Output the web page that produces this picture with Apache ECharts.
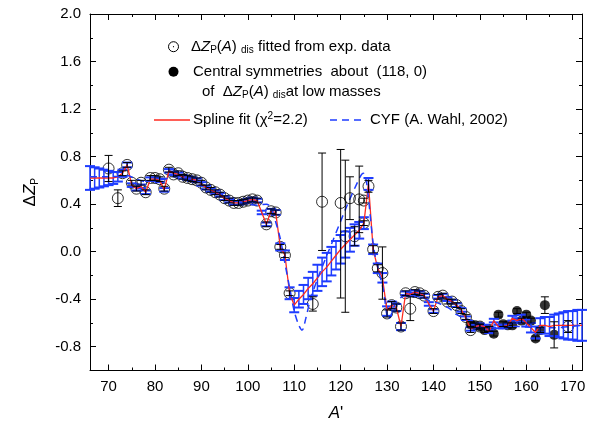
<!DOCTYPE html>
<html><head><meta charset="utf-8">
<script src="https://cdn.jsdelivr.net/npm/echarts@6/dist/echarts.min.js"></script>
<style>html,body{margin:0;padding:0;background:#fff}#c{width:600px;height:435px}</style>
</head><body><div id="c"></div>
<script>
// ---- data ----
const xMajorTicks = [70,80,90,100,110,120,130,140,150,160,170];
const xMinorTicks = [75,85,95,105,115,125,135,145,155,165];
const yMajorTicks = [-0.8,-0.4,0,0.4,0.8,1.2,1.6,2.0];
const yMinorTicks = [-0.6,-0.2,0.2,0.6,1.0,1.4,1.8];

// spline fit: [A, value, uncertainty]
const splineFit = [
[66,0.62,0.10],[67,0.62,0.09],[68,0.62,0.08],[69,0.62,0.07],[70,0.62,0.06],[71,0.62,0.05],[72,0.63,0.04],[73,0.66,0.03],
[74,0.73,0.02],[75,0.56,0.015],[76,0.53,0.015],[77,0.55,0.015],[78,0.50,0.015],[79,0.61,0.015],[80,0.61,0.015],[81,0.60,0.015],
[82,0.52,0.015],[83,0.68,0.015],[84,0.66,0.015],[85,0.65,0.015],[86,0.63,0.015],[87,0.62,0.015],[88,0.61,0.015],[89,0.60,0.015],
[90,0.57,0.015],[91,0.54,0.015],[92,0.52,0.015],[93,0.50,0.015],[94,0.48,0.015],[95,0.45,0.015],[96,0.43,0.015],[97,0.41,0.015],
[98,0.41,0.015],[99,0.42,0.015],[100,0.43,0.015],[101,0.44,0.015],[102,0.43,0.015],[103,0.33,0.015],[104,0.23,0.015],[105,0.34,0.02],
[106,0.33,0.02],[107,0.04,0.03],[108,-0.03,0.04],[109,-0.35,0.05],[110,-0.45,0.06],[111,-0.40,0.07],[112,-0.36,0.08],[113,-0.31,0.09],
[114,-0.27,0.10],[115,-0.22,0.11],[116,-0.17,0.12],[117,-0.13,0.12],[118,-0.08,0.12],[119,-0.03,0.12],[120,0.02,0.12],[121,0.06,0.11],
[122,0.10,0.10],[123,0.14,0.09],[124,0.18,0.07],[125,0.24,0.05],[126,0.57,0.05],[127,0.02,0.04],[128,-0.14,0.04],[129,-0.22,0.04],
[130,-0.50,0.04],[131,-0.45,0.03],[132,-0.47,0.03],[133,-0.63,0.03],[134,-0.35,0.015],[135,-0.36,0.015],[136,-0.34,0.015],[137,-0.35,0.015],
[138,-0.37,0.015],[139,-0.44,0.015],[140,-0.50,0.015],[141,-0.38,0.015],[142,-0.37,0.015],[143,-0.40,0.015],[144,-0.42,0.015],[145,-0.45,0.015],
[146,-0.49,0.015],[147,-0.56,0.015],[148,-0.65,0.015],[149,-0.63,0.015],[150,-0.62,0.015],[151,-0.63,0.015],[152,-0.67,0.015],[153,-0.58,0.015],
[154,-0.63,0.015],[155,-0.63,0.015],[156,-0.62,0.015],[157,-0.56,0.02],[158,-0.58,0.02],[159,-0.56,0.03],[160,-0.60,0.03],[161,-0.64,0.04],
[162,-0.68,0.05],[163,-0.62,0.06],[164,-0.62,0.07],[165,-0.63,0.08],[166,-0.62,0.09],[167,-0.62,0.10],[168,-0.62,0.11],[169,-0.62,0.12],
[170,-0.62,0.12],[171,-0.62,0.13],[172,-0.62,0.13]
];

// CYF (A. Wahl, 2002): [A, value]
const cyfCurve = [
[66,0.63],[70,0.63],[74,0.64],[76,0.61],[78,0.59],[80,0.60],[82,0.61],[84,0.63],[86,0.63],[88,0.61],[90,0.58],[92,0.53],
[94,0.49],[96,0.45],[98,0.42],[100,0.40],[102,0.39],[104,0.40],[105,0.37],[106,0.25],[107,0.11],[108,-0.10],[109,-0.30],
[110,-0.50],[111,-0.62],[111.7,-0.66],[112.5,-0.56],[113.5,-0.40],[115.5,-0.18],[118.4,0.10],[121.3,0.38],[124.2,0.63],
[124.9,0.66],[125.6,0.58],[127.1,0.04],[128.1,-0.15],[129.2,-0.32],[130.3,-0.57],[131,-0.52],[132,-0.42],[134,-0.37],
[137,-0.38],[139,-0.41],[141.5,-0.44],[143.5,-0.48],[145,-0.53],[149,-0.59],[154,-0.64],[158,-0.63],[162,-0.64],[166,-0.64],[172,-0.62]
];

// DeltaZp(A)dis fitted from exp. data: [A, value, errLow, errHigh]
const expPoints = [
[70,0.70,0.11,0.11],[72,0.45,0.07,0.07],[73,0.66,0.02,0.02],[74,0.73,0.02,0.02],[75,0.58,0.02,0.02],[76,0.53,0.02,0.02],
[77,0.58,0.02,0.02],[78,0.50,0.02,0.02],[79,0.62,0.02,0.02],[80,0.62,0.02,0.02],[81,0.61,0.02,0.02],[82,0.53,0.02,0.02],
[83,0.69,0.02,0.02],[84,0.65,0.02,0.02],[85,0.66,0.02,0.02],[86,0.63,0.02,0.02],[87,0.62,0.02,0.02],[88,0.61,0.02,0.02],
[89,0.60,0.02,0.02],[90,0.58,0.02,0.02],[91,0.54,0.02,0.02],[92,0.52,0.02,0.02],[93,0.50,0.02,0.02],[94,0.48,0.02,0.02],
[95,0.45,0.02,0.02],[96,0.43,0.02,0.02],[97,0.41,0.02,0.02],[98,0.41,0.02,0.02],[99,0.42,0.02,0.02],[100,0.43,0.02,0.02],
[101,0.44,0.02,0.02],[102,0.43,0.02,0.02],[104,0.23,0.02,0.02],[105,0.34,0.02,0.02],[106,0.33,0.02,0.02],[107,0.04,0.02,0.02],
[108,-0.03,0.02,0.02],[109,-0.35,0.02,0.02],[114,-0.44,0.06,0.06],[116,0.42,0.41,0.41],[120,0.41,0.80,0.45],[121,0.13,0.64,0.64],
[122,0.45,0.18,0.18],[123,0.13,0.08,0.08],[124,0.44,0.28,0.28],[125,0.24,0.02,0.02],[125,0.43,0.02,0.02],[126,0.55,0.05,0.05],
[127,0.02,0.03,0.03],[128,-0.14,0.03,0.03],[129,-0.18,0.22,0.22],[130,-0.52,0.03,0.03],[131,-0.45,0.03,0.03],[132,-0.47,0.03,0.03],
[133,-0.63,0.03,0.03],[134,-0.35,0.02,0.02],[135,-0.48,0.10,0.10],[136,-0.34,0.02,0.02],[137,-0.35,0.02,0.02],[138,-0.37,0.02,0.02],
[140,-0.50,0.02,0.02],[141,-0.38,0.02,0.02],[142,-0.37,0.02,0.02],[143,-0.42,0.02,0.02],[144,-0.42,0.02,0.02],[145,-0.45,0.02,0.02],
[146,-0.50,0.02,0.02],[147,-0.55,0.02,0.02],[148,-0.66,0.02,0.02],[150,-0.63,0.02,0.02],[169,-0.63,0.05,0.05]
];

// central symmetries about (118, 0) of low-mass points: [A, value, err]
const symPoints = [
[148,-0.61,0.02],[149,-0.62,0.02],[150,-0.63,0.02],[151,-0.66,0.02],[152,-0.65,0.02],[153,-0.69,0.02],[154,-0.53,0.02],
[155,-0.61,0.02],[156,-0.62,0.02],[157,-0.62,0.02],[158,-0.50,0.02],[159,-0.58,0.02],[160,-0.53,0.02],[161,-0.58,0.02],
[162,-0.73,0.02],[163,-0.66,0.02],[164,-0.45,0.07],[166,-0.70,0.11]
];

// ---- chart ----
const FONT = '"Liberation Sans", Arial, sans-serif';
const RED = '#ff2a1f', BLUE = '#1e3cff';
const chart = echarts.init(document.getElementById('c'), null, {renderer:'canvas'});

function errRender(color, capW, lw, capLw) {
  return function (params, api) {
    const x = api.value(0), lo = api.value(1), hi = api.value(2);
    const p1 = api.coord([x, lo]), p2 = api.coord([x, hi]);
    const h = capW / 2;
    const st = {stroke: color, lineWidth: lw};
    const cst = {stroke: color, lineWidth: capLw || lw};
    return {type: 'group', children: [
      {type: 'line', shape: {x1: p1[0], y1: p1[1], x2: p2[0], y2: p2[1]}, style: st},
      {type: 'line', shape: {x1: p1[0]-h, y1: p1[1], x2: p1[0]+h, y2: p1[1]}, style: cst},
      {type: 'line', shape: {x1: p2[0]-h, y1: p2[1], x2: p2[0]+h, y2: p2[1]}, style: cst}
    ]};
  };
}

function xAx(pos, vals, len, labels, line, extra) {
  return Object.assign({
    type: 'value', position: pos, min: 66, max: 172,
    axisLine: {show: line, onZero: false, lineStyle: {color: '#000', width: 1}},
    axisTick: {show: true, inside: true, length: len, customValues: vals, lineStyle: {color: '#000', width: 1}},
    axisLabel: {show: labels, customValues: vals, color: '#000', fontSize: 15, fontFamily: FONT, margin: 9},
    splitLine: {show: false}
  }, extra || {});
}
function yAx(pos, vals, len, labels, line, extra) {
  return Object.assign({
    type: 'value', position: pos, min: -1.0, max: 2.0,
    axisLine: {show: line, onZero: false, lineStyle: {color: '#000', width: 1}},
    axisTick: {show: true, inside: true, length: len, customValues: vals, lineStyle: {color: '#000', width: 1}},
    axisLabel: {show: labels, customValues: vals, color: '#000', fontSize: 15, fontFamily: FONT, margin: 9,
      formatter: v => Number(v).toFixed(1)},
    splitLine: {show: false}
  }, extra || {});
}

const richBase = {
  n: {fontSize: 15, fontFamily: FONT, color: '#000', lineHeight: 18},
  i: {fontSize: 15, fontFamily: FONT, color: '#000', fontStyle: 'italic', lineHeight: 18},
  s: {fontSize: 10, fontFamily: FONT, color: '#000', verticalAlign: 'bottom', lineHeight: 11},
  t: {fontSize: 10, fontFamily: FONT, color: '#000', verticalAlign: 'top', lineHeight: 11}
};

function legText(x, y, txt) {
  return {type: 'text', x: x, y: y, z: 100,
    style: {text: txt, rich: richBase, align: 'left', verticalAlign: 'middle', fill: '#000', font: '15px ' + FONT}};
}

const option = {
  backgroundColor: '#fff',
  animation: false,
  grid: {left: 90, right: 18, top: 14, bottom: 64.5, containLabel: false},
  xAxis: [
    xAx('bottom', xMajorTicks, 6, true, true, {
      name: "{i|A}{n|'}", nameLocation: 'middle', nameGap: 34,
      nameTextStyle: {rich: {i: {fontSize: 17, fontFamily: FONT, fontStyle: 'italic', color: '#000'}, n: {fontSize: 17, fontFamily: FONT, color: '#000'}}}
    }),
    xAx('bottom', xMinorTicks, 3, false, false),
    xAx('top', xMajorTicks, 6, false, true),
    xAx('top', xMinorTicks, 3, false, false)
  ],
  yAxis: [
    yAx('left', yMajorTicks, 6, true, true, {
      name: '{d|Δ}{z|Z}{p|P}', nameLocation: 'middle', nameGap: 50, nameRotate: 90,
      nameTextStyle: {rich: {
        d: {fontSize: 17, fontFamily: FONT, color: '#000', lineHeight: 20},
        z: {fontSize: 17, fontFamily: FONT, fontStyle: 'italic', color: '#000', lineHeight: 20},
        p: {fontSize: 10, fontFamily: FONT, color: '#000', verticalAlign: 'bottom', lineHeight: 11}
      }}
    }),
    yAx('left', yMinorTicks, 3, false, false),
    yAx('right', yMajorTicks, 6, false, true),
    yAx('right', yMinorTicks, 3, false, false)
  ],
  series: [
    {name: 'exp', type: 'scatter', data: expPoints.map(r => [r[0], r[1]]), symbol: 'circle', symbolSize: 11,
      itemStyle: {color: 'rgba(255,255,255,0)', borderColor: '#000', borderWidth: 1}, z: 2},
    {name: 'sym', type: 'scatter', data: symPoints.map(r => [r[0], r[1]]), symbol: 'circle', symbolSize: 10,
      itemStyle: {color: '#000'}, z: 2},
    {name: 'splineErr', type: 'custom', renderItem: errRender(BLUE, 10, 1.5, 2),
      data: splineFit.map(r => [r[0], r[1]-r[2], r[1]+r[2]]), z: 3},
    {name: 'spline', type: 'line', data: splineFit.map(r => [r[0], r[1]]), symbol: 'none',
      lineStyle: {color: RED, width: 1.3}, z: 4},
    {name: 'cyf', type: 'line', data: cyfCurve, symbol: 'none', smooth: 0.3,
      lineStyle: {color: BLUE, width: 1.5, type: [7, 5]}, z: 5},
    {name: 'expErr', type: 'custom', renderItem: errRender('#000', 8, 1),
      data: expPoints.map(r => [r[0], r[1]-r[2], r[1]+r[3]]), z: 6},
    {name: 'symErr', type: 'custom', renderItem: errRender('#000', 8, 1),
      data: symPoints.map(r => [r[0], r[1]-r[2], r[1]+r[2]]), z: 6}
  ],
  graphic: [
    {type: 'circle', shape: {cx: 173.5, cy: 46.7, r: 5}, style: {fill: 'none', stroke: '#000', lineWidth: 1}, z: 100},
    {type: 'circle', shape: {cx: 173.5, cy: 46.7, r: 0.6}, style: {fill: '#000'}, z: 100},
    legText(191, 46.7, '{n|Δ}{i|Z}{s|P}{n|(}{i|A}{n|) }{s|dis}{n| fitted from exp. data}'),
    {type: 'circle', shape: {cx: 173.5, cy: 71.7, r: 5}, style: {fill: '#000'}, z: 100},
    legText(193, 71.7, '{n|Central symmetries  about  (118, 0)}'),
    legText(202, 91.7, '{n|of  Δ}{i|Z}{s|P}{n|(}{i|A}{n|) }{s|dis}{n|at low masses}'),
    {type: 'line', shape: {x1: 154, y1: 120, x2: 190, y2: 120}, style: {stroke: RED, lineWidth: 1.3}, z: 100},
    legText(193, 120, '{n|Spline fit (χ}{t|2}{n|=2.2)}'),
    {type: 'line', shape: {x1: 330, y1: 120, x2: 363, y2: 120}, style: {stroke: BLUE, lineWidth: 1.5, lineDash: [7, 5]}, z: 100},
    legText(370, 120, '{n|CYF (A. Wahl, 2002)}')
  ]
};
chart.setOption(option);
</script>
</body></html>
